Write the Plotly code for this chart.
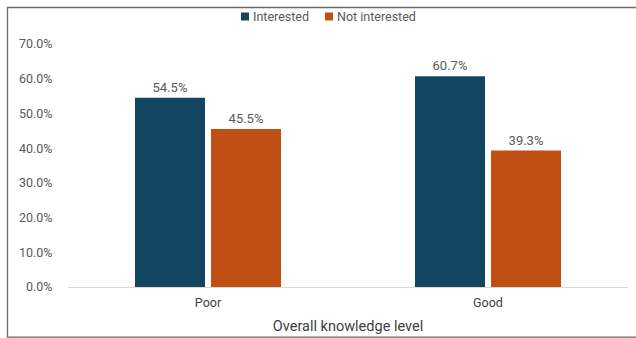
import plotly.graph_objects as go

categories = ["Poor", "Good"]
interested = [0.545, 0.607]
not_interested = [0.455, 0.393]
series_names = ["Interested", "Not interested"]
colors = ["#124660", "#C04F15"]

FONT = "Roboto"
GRAY = "#595959"

# plot area in pixels: x 68..628, y 44..287
L, R, T, B = 68, 8, 44, 51
PW, PH = 636 - L - R, 338 - T - B


def px_x(x):
    return (x - L) / PW


def px_y(y):
    return (338 - B - y) / PH


fig = go.Figure()
for name, vals, col in zip(series_names, [interested, not_interested], colors):
    fig.add_trace(go.Bar(
        x=categories, y=vals, name=name,
        marker=dict(color=col, line=dict(width=0)),
        texttemplate="%{y:.1%}", textposition="outside",
        textfont=dict(family=FONT, size=13, color=GRAY),
        cliponaxis=False, showlegend=False,
    ))

shapes = [dict(type="rect", xref="paper", yref="paper",
               x0=px_x(7.5), x1=px_x(650), y0=px_y(337.2), y1=px_y(7.5),
               line=dict(color="#6b6b6b", width=1.3), fillcolor="rgba(0,0,0,0)")]
annotations = []

# legend row: coloured square followed by series name
legend_x = [241, 325]
for name, col, lx in zip(series_names, colors, legend_x):
    shapes.append(dict(type="rect", xref="paper", yref="paper",
                       x0=px_x(lx), x1=px_x(lx + 8), y0=px_y(20.5), y1=px_y(12.5),
                       line=dict(width=0), fillcolor=col))
    annotations.append(dict(text=name, xref="paper", yref="paper",
                            x=px_x(lx + 10), y=px_y(16.5), xanchor="left", yanchor="middle",
                            showarrow=False, font=dict(family=FONT, size=12.5, color=GRAY)))

fig.update_layout(
    width=636, height=338,
    margin=dict(l=L, r=R, t=T, b=B, autoexpand=False),
    paper_bgcolor="white", plot_bgcolor="white",
    barmode="group", bargap=0.457, bargroupgap=0.079,
    font=dict(family=FONT, color=GRAY),
    showlegend=False,
    xaxis=dict(
        showline=True, linecolor="#d9d9d9", linewidth=1,
        ticks="outside", ticklen=4, tickcolor="rgba(0,0,0,0)",
        tickfont=dict(family=FONT, size=12.5, color="#404040"),
        title=dict(text="Overall knowledge level", font=dict(family=FONT, size=14.5, color="#404040"), standoff=11),
    ),
    yaxis=dict(
        range=[0, 0.7], dtick=0.1, tickformat=".1%",
        showgrid=False, zeroline=False,
        ticks="outside", ticklen=12, tickcolor="rgba(0,0,0,0)",
        tickfont=dict(family=FONT, size=12.5, color=GRAY),
    ),
    shapes=shapes,
    annotations=annotations,
)

fig.write_html("out.html")
